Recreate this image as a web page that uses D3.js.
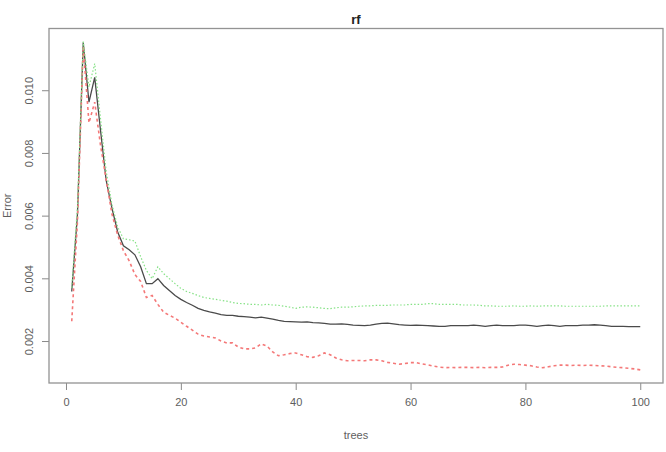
<!DOCTYPE html>
<html lang="en">

<head>
    <meta charset="UTF-8">
    <title>rf</title>
    <script src="https://d3js.org/d3.v7.min.js"></script>
    <style>
        body {
            margin: 0;
            background: #ffffff;
            font-family: 'Liberation Sans', Arial, sans-serif;
        }

        .tick text {
            font-size: 11px;
            fill: #5e5e5e;
        }

        .tick line {
            stroke: #8a8a8a;
        }

        .axis-label {
            font-size: 11px;
            fill: #5e5e5e;
        }

        .chart-title {
            font-size: 13px;
            font-weight: bold;
            fill: #222222;
        }
    </style>
</head>

<body>
    <svg width="666" height="452"></svg>

    <script>
        // error rate per number of trees (randomForest err.rate)
        const trees = d3.range(1, 101);

        const oob = [
            0.00358, 0.00605, 0.01152, 0.00962, 0.01041, 0.00874, 0.00712, 0.00624, 0.00548, 0.00504,
            0.00491, 0.00475, 0.00437, 0.00383, 0.00383, 0.00399, 0.00377, 0.00361, 0.00345, 0.00333,
            0.00323, 0.00314, 0.00304, 0.00298, 0.00293, 0.00289, 0.00284, 0.00282, 0.00282, 0.00279,
            0.00278, 0.00276, 0.00274, 0.00276, 0.00273, 0.00270, 0.00266, 0.00263, 0.00262, 0.00261,
            0.00260, 0.00261, 0.00259, 0.00258, 0.00256, 0.00254, 0.00254, 0.00255, 0.00253, 0.00251,
            0.00250, 0.00249, 0.00251, 0.00254, 0.00256, 0.00257, 0.00255, 0.00252, 0.00251, 0.00250,
            0.00251, 0.00250, 0.00249, 0.00248, 0.00247, 0.00247, 0.00249, 0.00249, 0.00249, 0.00249,
            0.00251, 0.00249, 0.00247, 0.00249, 0.00251, 0.00249, 0.00249, 0.00249, 0.00251, 0.00251,
            0.00249, 0.00247, 0.00249, 0.00251, 0.00249, 0.00247, 0.00249, 0.00249, 0.00249, 0.00251,
            0.00251, 0.00252, 0.00251, 0.00249, 0.00247, 0.00247, 0.00247, 0.00246, 0.00246, 0.00246
        ];

        const class1 = [
            0.00263, 0.00583, 0.01140, 0.00896, 0.00962, 0.00826, 0.00715, 0.00605, 0.00538, 0.00488,
            0.00456, 0.00412, 0.00390, 0.00339, 0.00345, 0.00317, 0.00292, 0.00282, 0.00273, 0.00260,
            0.00247, 0.00235, 0.00222, 0.00216, 0.00213, 0.00210, 0.00200, 0.00194, 0.00194, 0.00181,
            0.00175, 0.00175, 0.00178, 0.00191, 0.00184, 0.00165, 0.00153, 0.00156, 0.00160, 0.00162,
            0.00156, 0.00150, 0.00148, 0.00153, 0.00162, 0.00156, 0.00146, 0.00140, 0.00137, 0.00138,
            0.00138, 0.00137, 0.00140, 0.00140, 0.00137, 0.00132, 0.00129, 0.00126, 0.00128, 0.00131,
            0.00131, 0.00127, 0.00124, 0.00120, 0.00117, 0.00115, 0.00116, 0.00115, 0.00116, 0.00116,
            0.00115, 0.00116, 0.00115, 0.00116, 0.00116, 0.00117, 0.00123, 0.00126, 0.00125, 0.00123,
            0.00121, 0.00117, 0.00115, 0.00118, 0.00121, 0.00123, 0.00123, 0.00122, 0.00123, 0.00122,
            0.00123, 0.00122, 0.00121, 0.00120, 0.00118, 0.00116, 0.00115, 0.00113, 0.00111, 0.00108
        ];

        const class2 = [
            0.00370, 0.00630, 0.01155, 0.01010, 0.01085, 0.00911, 0.00741, 0.00636, 0.00564, 0.00526,
            0.00523, 0.00519, 0.00469, 0.00425, 0.00399, 0.00437, 0.00415, 0.00399, 0.00383, 0.00368,
            0.00358, 0.00352, 0.00345, 0.00339, 0.00336, 0.00333, 0.00330, 0.00327, 0.00323, 0.00320,
            0.00319, 0.00317, 0.00317, 0.00315, 0.00317, 0.00315, 0.00314, 0.00311, 0.00308, 0.00304,
            0.00308, 0.00309, 0.00308, 0.00306, 0.00304, 0.00303, 0.00306, 0.00308, 0.00308, 0.00309,
            0.00311, 0.00312, 0.00312, 0.00314, 0.00314, 0.00314, 0.00315, 0.00315, 0.00315, 0.00317,
            0.00317, 0.00317, 0.00319, 0.00319, 0.00317, 0.00317, 0.00317, 0.00317, 0.00315, 0.00315,
            0.00315, 0.00314, 0.00312, 0.00312, 0.00311, 0.00311, 0.00311, 0.00312, 0.00311, 0.00311,
            0.00312, 0.00311, 0.00312, 0.00312, 0.00312, 0.00312, 0.00311, 0.00311, 0.00311, 0.00311,
            0.00311, 0.00311, 0.00311, 0.00312, 0.00312, 0.00312, 0.00312, 0.00312, 0.00312, 0.00312
        ];

        const xTicks = [0, 20, 40, 60, 80, 100];
        const yTicks = [0.002, 0.004, 0.006, 0.008, 0.010];

        // Set up dimensions and margins (R default plot region)
        const margin = { top: 28.5, right: 3, bottom: 69, left: 49 };
        const width = 666 - margin.left - margin.right;
        const height = 452 - margin.top - margin.bottom;

        const svg = d3.select("svg")
            .append("g")
            .attr("transform", `translate(${margin.left},${margin.top})`);

        // R extends axis ranges by 4%
        const xr = d3.extent(trees);
        const xPad = (xr[1] - xr[0]) * 0.04;
        const allVals = oob.concat(class1, class2);
        const yr = d3.extent(allVals);
        const yPad = (yr[1] - yr[0]) * 0.04;

        const x = d3.scaleLinear()
            .domain([xr[0] - xPad, xr[1] + xPad])
            .range([0, width]);

        const y = d3.scaleLinear()
            .domain([yr[0] - yPad, yr[1] + yPad])
            .range([height, 0]);

        // Axes
        const xAxis = svg.append("g")
            .attr("transform", `translate(0,${height})`)
            .call(d3.axisBottom(x).tickValues(xTicks).tickSize(7).tickSizeOuter(0).tickPadding(8));
        xAxis.select(".domain").remove();
        xAxis.selectAll("text").style("font-family", "'Liberation Sans', Arial, sans-serif");

        const yAxis = svg.append("g")
            .call(d3.axisLeft(y).tickValues(yTicks).tickFormat(d3.format(".3f")).tickSize(7).tickSizeOuter(0));
        yAxis.select(".domain").remove();
        yAxis.selectAll("text")
            .style("font-family", "'Liberation Sans', Arial, sans-serif")
            .attr("transform", "rotate(-90)")
            .attr("x", 0)
            .attr("y", -16)
            .attr("dy", 0)
            .style("text-anchor", "middle");

        // Lines: OOB black solid, class 1 red dashed, class 2 green dotted
        const series = [
            { values: oob, color: "#4a4a4a", dash: null, w: 1.3 },
            { values: class1, color: "#f47878", dash: "3,3", w: 1.6 },
            { values: class2, color: "#86e286", dash: "1.5,2", w: 1.2 }
        ];

        const line = d3.line()
            .x((d, i) => x(trees[i]))
            .y(d => y(d));

        series.forEach(s => {
            svg.append("path")
                .datum(s.values)
                .attr("fill", "none")
                .attr("stroke", s.color)
                .attr("stroke-width", s.w)
                .attr("stroke-dasharray", s.dash)
                .attr("d", line);
        });

        // Box
        svg.append("rect")
            .attr("x", 0)
            .attr("y", 0)
            .attr("width", width)
            .attr("height", height)
            .attr("fill", "none")
            .attr("stroke", "#939393")
            .attr("stroke-width", 1.3);

        // Labels
        svg.append("text")
            .attr("class", "chart-title")
            .attr("x", width / 2)
            .attr("y", -5)
            .style("text-anchor", "middle")
            .text("rf");

        svg.append("text")
            .attr("class", "axis-label")
            .attr("x", width / 2)
            .attr("y", height + 56)
            .style("text-anchor", "middle")
            .text("trees");

        svg.append("text")
            .attr("class", "axis-label")
            .attr("transform", "rotate(-90)")
            .attr("x", -height / 2)
            .attr("y", -margin.left + 11)
            .style("text-anchor", "middle")
            .text("Error");
    </script>
</body>

</html>
